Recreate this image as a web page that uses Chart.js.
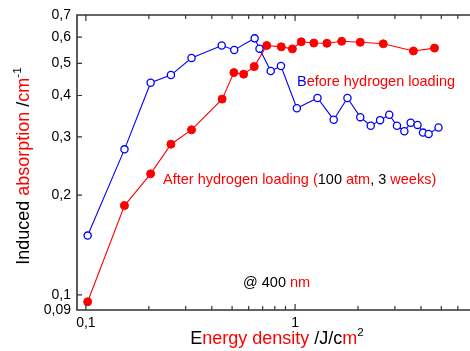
<!DOCTYPE html>
<html>
<head>
<meta charset="utf-8">
<script src="https://cdn.jsdelivr.net/npm/chart.js@4/dist/chart.umd.min.js"></script>
<style>
html, body { margin: 0; padding: 0; background: #fff; }
</style>
</head>
<body>
<canvas id="chart" width="470" height="351"></canvas>
<script>
// data (log-log)
var beforeX = [0.102, 0.153, 0.204, 0.255, 0.32, 0.446, 0.512, 0.641, 0.676, 0.765, 0.856, 1.02, 1.28, 1.53, 1.78, 2.05, 2.30, 2.55, 2.82, 3.07, 3.33, 3.57, 3.85, 4.09, 4.35, 4.85];
var beforeY = [0.151, 0.275, 0.437, 0.461, 0.519, 0.566, 0.549, 0.595, 0.554, 0.474, 0.491, 0.366, 0.393, 0.338, 0.393, 0.344, 0.324, 0.337, 0.350, 0.324, 0.312, 0.331, 0.326, 0.309, 0.306, 0.320];
var afterX = [0.102, 0.153, 0.204, 0.255, 0.32, 0.448, 0.51, 0.568, 0.638, 0.732, 0.859, 0.971, 1.07, 1.23, 1.42, 1.67, 2.05, 2.64, 3.68, 4.64];
var afterY = [0.0953, 0.186, 0.232, 0.285, 0.315, 0.390, 0.469, 0.464, 0.489, 0.566, 0.561, 0.553, 0.581, 0.576, 0.575, 0.583, 0.579, 0.573, 0.545, 0.556];
var yTicks = [0.09, 0.1, 0.2, 0.3, 0.4, 0.5, 0.6, 0.7];
var xTicks = [0.1, 0.2, 0.3, 0.4, 0.5, 0.6, 0.7, 0.8, 0.9, 1, 2, 3, 4, 5, 6];
var xLabeled = [0.1, 1];

var RED = '#ff0000', BLUE = '#0000ff', BLACK = '#000';
var FONT = '"Liberation Sans", Arial, sans-serif';

function toPoints(xs, ys) {
    return xs.map(function(x, i) { return { x: x, y: ys[i] }; });
}

// draws a row of coloured pieces, sup pieces are raised and smaller
function drawPieces(ctx, pieces, x, y, size, align) {
    var total = 0;
    pieces.forEach(function(p) {
        ctx.font = (p.sup ? size * 0.65 : size) + 'px ' + FONT;
        p.w = ctx.measureText(p.t).width;
        total += p.w;
    });
    var cx = align === 'center' ? x - total / 2 : x;
    pieces.forEach(function(p) {
        ctx.font = (p.sup ? size * 0.65 : size) + 'px ' + FONT;
        ctx.fillStyle = p.c;
        ctx.fillText(p.t, cx, p.sup ? y - size * 0.42 : y);
        cx += p.w;
    });
}

var decorations = {
    id: 'decorations',
    afterDraw: function(chart) {
        var ctx = chart.ctx, a = chart.chartArea;
        var xs = chart.scales.x, ys = chart.scales.y;
        ctx.save();
        ctx.strokeStyle = '#333';
        ctx.lineWidth = 1.6;
        ctx.beginPath();
        ctx.moveTo(chart.width + 2, a.top);
        ctx.lineTo(a.left, a.top);
        ctx.lineTo(a.left, a.bottom);
        ctx.lineTo(chart.width + 2, a.bottom);
        ctx.stroke();

        ctx.lineWidth = 1.2;
        ctx.beginPath();
        xTicks.forEach(function(v) {
            var px = xs.getPixelForValue(v);
            var len = xLabeled.indexOf(v) >= 0 ? 6 : 4;
            ctx.moveTo(px, a.bottom); ctx.lineTo(px, a.bottom - len);
            ctx.moveTo(px, a.top); ctx.lineTo(px, a.top + len);
        });
        yTicks.forEach(function(v) {
            if (v === 0.09 || v === 0.7) return;
            var py = ys.getPixelForValue(v);
            ctx.moveTo(a.left, py); ctx.lineTo(a.left + 5, py);
        });
        ctx.stroke();

        ctx.textBaseline = 'middle';
        ctx.textAlign = 'left';
        drawPieces(ctx, [
            { t: 'B', c: BLUE }, { t: 'efore hydrogen loading', c: RED }
        ], 297, 82, 14.5);
        drawPieces(ctx, [
            { t: 'After hydrogen loading (', c: RED }, { t: '100', c: BLACK },
            { t: ' atm', c: RED }, { t: ', ', c: BLACK }, { t: '3', c: BLACK },
            { t: ' weeks)', c: RED }
        ], 163, 180, 14.5);
        drawPieces(ctx, [
            { t: '@ 400 ', c: BLACK }, { t: 'nm', c: RED }
        ], 243, 283, 14.5);

        // axis titles
        ctx.textBaseline = 'alphabetic';
        drawPieces(ctx, [
            { t: 'E', c: BLACK }, { t: 'nergy density', c: RED }, { t: ' /J/c', c: BLACK },
            { t: 'm', c: RED }, { t: '2', c: BLACK, sup: true }
        ], 277, 344, 18, 'center');

        ctx.translate(29, 166);
        ctx.rotate(-Math.PI / 2);
        drawPieces(ctx, [
            { t: 'Induced ', c: BLACK }, { t: 'absorption', c: RED }, { t: ' /', c: BLACK },
            { t: 'cm', c: RED }, { t: '-1', c: BLACK, sup: true }
        ], 0, 0, 18, 'center');
        ctx.restore();
    }
};

new Chart(document.getElementById('chart'), {
    type: 'line',
    data: {
        datasets: [{
            label: 'Before hydrogen loading',
            data: toPoints(beforeX, beforeY),
            borderColor: BLUE,
            borderWidth: 1.1,
            pointRadius: 3.6,
            pointBackgroundColor: '#fff',
            pointBorderColor: BLUE,
            pointBorderWidth: 1.3,
            tension: 0
        }, {
            label: 'After hydrogen loading',
            data: toPoints(afterX, afterY),
            borderColor: RED,
            borderWidth: 1.1,
            pointRadius: 4,
            pointBackgroundColor: RED,
            pointBorderColor: RED,
            pointBorderWidth: 1,
            tension: 0
        }]
    },
    options: {
        responsive: false,
        animation: false,
        devicePixelRatio: 1,
        layout: { padding: { top: 15, right: 0, left: 0, bottom: 0 } },
        plugins: { legend: { display: false }, tooltip: { enabled: false } },
        scales: {
            x: {
                type: 'logarithmic',
                min: 0.0907,
                max: 6.47,
                grid: { display: false, drawTicks: false },
                border: { display: false },
                afterBuildTicks: function(scale) {
                    scale.ticks = xTicks.map(function(v) { return { value: v }; });
                },
                afterFit: function(scale) { scale.height = 41; },
                ticks: {
                    autoSkip: false,
                    maxRotation: 0,
                    padding: 5,
                    color: BLACK,
                    font: { family: FONT, size: 14 },
                    callback: function(v) {
                        return xLabeled.indexOf(v) >= 0 ? String(v).replace('.', ',') : '';
                    }
                }
            },
            y: {
                type: 'logarithmic',
                min: 0.09,
                max: 0.7,
                grid: { display: false, drawTicks: false },
                border: { display: false },
                afterBuildTicks: function(scale) {
                    scale.ticks = yTicks.map(function(v) { return { value: v }; });
                },
                afterFit: function(scale) { scale.width = 77; },
                ticks: {
                    autoSkip: false,
                    padding: 6,
                    color: BLACK,
                    font: { family: FONT, size: 14 },
                    callback: function(v) { return String(v).replace('.', ','); }
                }
            }
        }
    },
    plugins: [decorations]
});
</script>
</body>
</html>
